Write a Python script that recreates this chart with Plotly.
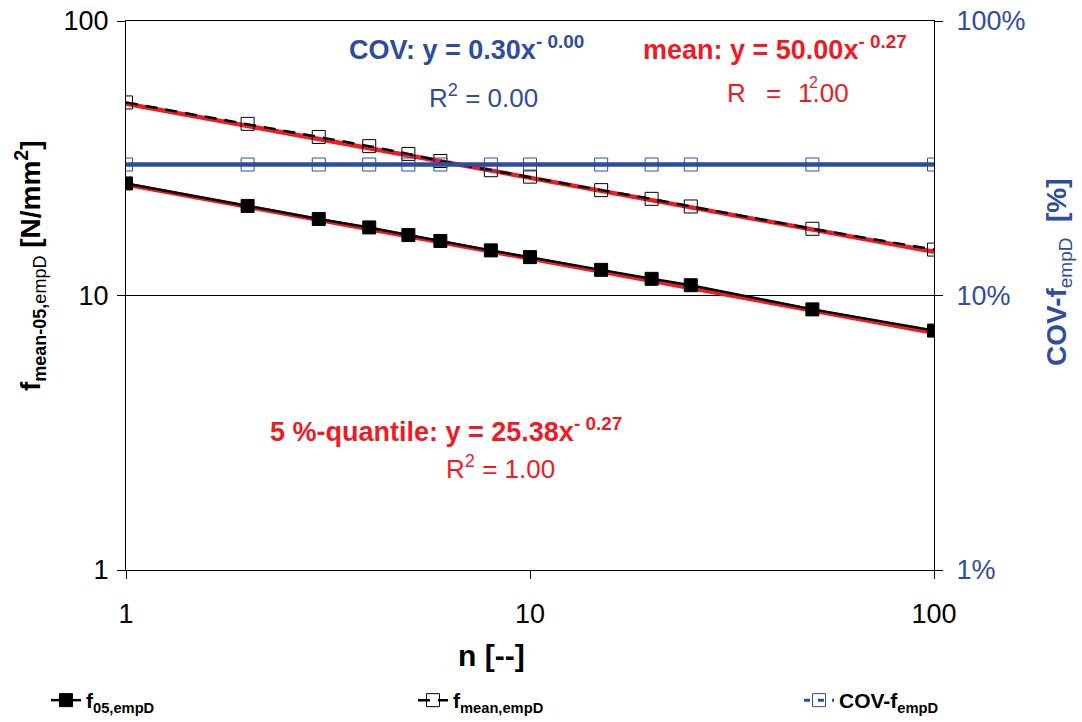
import plotly.graph_objects as go

# ---- data ----
n_vals = [1, 2, 3, 4, 5, 6, 8, 10, 15, 20, 25, 50, 100]
f05_vals = [25.6, 21.2, 19.0, 17.7, 16.6, 15.8, 14.6, 13.8, 12.4, 11.5, 10.9, 8.9, 7.45]
fmean_vals = [50.5, 42.2, 37.8, 35.0, 32.8, 30.9, 28.6, 27.1, 24.2, 22.5, 21.1, 17.5, 14.7]
cov_vals = [0.30, 0.30, 0.30, 0.30, 0.30, 0.30, 0.30, 0.30, 0.30, 0.30, 0.30, 0.30, 0.30]

# trendline coefficients (power fits shown in chart)
trend_x = [1, 100]
f05_a, f05_b = 25.38, -0.27
mean_a, mean_b = 50.00, -0.27
cov_a, cov_b = 0.30, 0.00

x_ticks = [1, 10, 100]
x_ticklabels = ["1", "10", "100"]
y_ticks = [1, 10, 100]
y_ticklabels = ["1", "10", "100"]
y2_ticks = [0.01, 0.1, 1]
y2_ticklabels = ["1%", "10%", "100%"]

RED = "#ED1C24"
BLUE = "#2F4D9E"
FONT = "Liberation Sans, Arial, sans-serif"

# plot area in pixels
L, R, T, B = 126, 934, 21, 570
W, H = 1082, 722


def px(x, y):
    return (x - L) / (R - L), (B - y) / (B - T)


fig = go.Figure()

# trendlines
fig.add_trace(go.Scatter(x=trend_x, y=[f05_a * v ** f05_b for v in trend_x], mode="lines",
                         line=dict(color=RED, width=4.5), showlegend=False, hoverinfo="skip"))
fig.add_trace(go.Scatter(x=trend_x, y=[mean_a * v ** mean_b for v in trend_x], mode="lines",
                         line=dict(color=RED, width=4.5), showlegend=False, hoverinfo="skip"))

# series
fig.add_trace(go.Scatter(x=n_vals, y=f05_vals, mode="lines+markers", name="<b>f<sub>05,empD</sub></b>",
                         legend="legend",
                         line=dict(color="black", width=2.5),
                         marker=dict(symbol="square", size=13, color="black", line=dict(color="black", width=1))))
fig.add_trace(go.Scatter(x=n_vals, y=fmean_vals, mode="lines+markers", name="<b>f<sub>mean,empD</sub></b>",
                         legend="legend2",
                         line=dict(color="black", width=2.5, dash="12px,8px"),
                         marker=dict(symbol="square-open", size=13, color="black", line=dict(color="black", width=1))))

# COV trendline + series on secondary axis
fig.add_trace(go.Scatter(x=trend_x, y=[cov_a * v ** cov_b for v in trend_x], mode="lines", yaxis="y2",
                         line=dict(color=BLUE, width=4.5), showlegend=False, hoverinfo="skip"))
fig.add_trace(go.Scatter(x=n_vals, y=cov_vals, mode="lines+markers", name="<b>COV-f<sub>empD</sub></b>",
                         yaxis="y2", legend="legend3",
                         line=dict(color=BLUE, width=3, dash="6px,8px"),
                         marker=dict(symbol="square-open", size=13, color=BLUE, line=dict(color=BLUE, width=1))))

axis_common = dict(showline=True, linecolor="black", linewidth=1, ticks="outside", ticklen=8,
                   tickcolor="black", tickwidth=1, automargin=False)


def leg(xpx):
    return dict(orientation="h", x=px(xpx, 0)[0], y=px(0, 721)[1], xanchor="left", yanchor="bottom",
                font=dict(size=21, color="black", family=FONT), bgcolor="rgba(0,0,0,0)")


fig.update_layout(
    width=W, height=H,
    margin=dict(l=L, r=W - R, t=T, b=H - B, autoexpand=False),
    paper_bgcolor="white", plot_bgcolor="white",
    font=dict(family=FONT, color="black", size=26),
    xaxis=dict(type="log", range=[0, 2], tickvals=x_ticks, ticktext=x_ticklabels,
               showgrid=False, mirror=True, tickfont=dict(size=27), ticklabelstandoff=12, **axis_common),
    yaxis=dict(type="log", range=[0, 2], tickvals=y_ticks, ticktext=y_ticklabels,
               showgrid=True, gridcolor="black", gridwidth=1, tickfont=dict(size=27),
               ticklabelstandoff=3, zeroline=False, **axis_common),
    yaxis2=dict(type="log", range=[-2, 0], tickvals=y2_ticks, ticktext=y2_ticklabels,
                overlaying="y", side="right", showgrid=False, tickfont=dict(size=27, color=BLUE),
                ticklabelstandoff=8, **axis_common),
    showlegend=True,
    legend=leg(46),
    legend2=leg(413),
    legend3=leg(799),
)

annots = [
    # (text, x_px, y_px, color, size, angle, xanchor)
    ("<b>COV: y = 0.30x<sup>- 0.00</sup></b>", 466, 48, BLUE, 27, 0, "center"),
    ("R<sup>2</sup> = 0.00", 483, 96, BLUE, 26, 0, "center"),
    ("<b>mean: y = 50.00x<sup>- 0.27</sup></b>", 775, 48, RED, 27, 0, "center"),
    ("R", 725, 93, RED, 26, 0, "left"),
    ("=", 764, 93, RED, 26, 0, "left"),
    ("1.00", 796, 93, RED, 26, 0, "left"),
    ("2", 813, 83, RED, 16, 0, "center"),
    ("<b>5 %-quantile: y = 25.38x<sup>- 0.27</sup></b>", 446, 430, RED, 27, 0, "center"),
    ("R<sup>2</sup> = 1.00", 500, 467, RED, 26, 0, "center"),
    ("<b>n [--]</b>", 491, 655, "black", 30, 0, "center"),
    ("<b>f</b><sub><span style='font-size:18px'><b>mean-05,</b>empD</span></sub><b> [N/mm<sup>2</sup>]</b>",
     30, 266, "black", 28, -90, "center"),
    ("<b>COV-f</b><sub><span style='font-size:19px'>empD</span></sub><b>  [%]</b>",
     1058, 272, BLUE, 28, -90, "center"),
]
for text, x, y, color, size, ang, xa in annots:
    xp, yp = px(x, y)
    fig.add_annotation(text=text, x=xp, y=yp, xref="paper", yref="paper", showarrow=False,
                       xanchor=xa, yanchor="middle", textangle=ang,
                       font=dict(color=color, size=size, family=FONT))

fig.write_html("out.html", config={"displayModeBar": False},
               post_script="document.body.style.margin='0';document.body.style.overflow='hidden';")
